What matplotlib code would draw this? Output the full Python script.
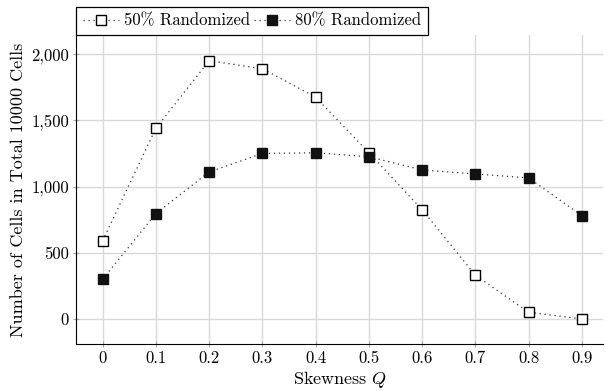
import numpy as np
import matplotlib.pyplot as plt

plt.rcParams['font.family'] = 'cmr10'
plt.rcParams['mathtext.fontset'] = 'cm'
plt.rcParams['axes.formatter.use_mathtext'] = True

# data
skew = [0, 0.1, 0.2, 0.3, 0.4, 0.5, 0.6, 0.7, 0.8, 0.9]
rand50 = [590, 1440, 1950, 1890, 1675, 1255, 825, 330, 50, 0]
rand80 = [300, 795, 1110, 1250, 1255, 1225, 1125, 1095, 1065, 780]
yticks = [0, 500, 1000, 1500, 2000]
ytick_labels = ['0', '500', '1,000', '1,500', '2,000']

fig = plt.figure(figsize=(6.06, 3.91), dpi=100)
ax = fig.add_axes([0.1254, 0.12, 0.87, 0.79])

dots = (0, (1, 3))
ax.plot(skew, rand50, linestyle=dots, color='#333333', linewidth=0.9,
        marker='s', markersize=7, markerfacecolor='white',
        markeredgecolor='black', markeredgewidth=1.0, label='50% Randomized')
ax.plot(skew, rand80, linestyle=dots, color='#333333', linewidth=0.9,
        marker='s', markersize=7, markerfacecolor='#111111',
        markeredgecolor='#111111', label='80% Randomized')

ax.set_xlim(-0.05, 0.94)
ax.set_ylim(-190, 2143)
ax.set_xticks(skew)
ax.set_xticklabels(['0', '0.1', '0.2', '0.3', '0.4', '0.5', '0.6', '0.7', '0.8', '0.9'])
ax.set_yticks(yticks)
ax.set_yticklabels(ytick_labels)
ax.grid(True, color='#d9d9d9', linewidth=1.0)
ax.set_axisbelow(True)
for s in ['top', 'right']:
    ax.spines[s].set_visible(False)
ax.tick_params(axis='both', length=4, color='#aaaaaa', labelsize=12,
               direction='inout', pad=3)

ax.set_xlabel('Skewness $Q$', fontsize=13, labelpad=2)
ax.set_ylabel('Number of Cells in Total 10000 Cells', fontsize=13, labelpad=4)

leg = ax.legend(loc='lower left', bbox_to_anchor=(0, 1), borderaxespad=0, ncol=2,
                fancybox=False, edgecolor='black', framealpha=1, fontsize=12,
                handlelength=2.2, handletextpad=0.3, columnspacing=0.2)
leg.get_frame().set_linewidth(0.9)

fig.savefig('out.png', dpi=100)
